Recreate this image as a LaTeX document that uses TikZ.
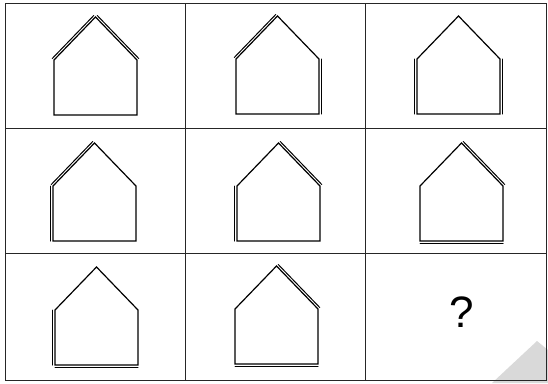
\documentclass[tikz,border=0pt]{standalone}
\usepackage{fontspec}
\setmainfont{Liberation Sans}
\usetikzlibrary{calc}

\tikzset{
  edge/.style={line width=1.2pt, line cap=round},
  one/.style={draw=none},
  two/.style={line width=1pt},
  frame/.style={line width=0.9pt, black!85},
}

% house at lower left corner (#1,#2); left wall, left roof, right roof, right wall, floor: one or two lines
\newcommand{\house}[7]{%
  \coordinate (bl) at (#1,#2);
  \coordinate (tl) at (#1,#2-55);
  \coordinate (ap) at (#1+41.5,#2-98);
  \coordinate (tr) at (#1+83,#2-55);
  \coordinate (br) at (#1+83,#2);
  \draw[edge] (bl) -- (tl) -- (ap) -- (tr) -- (br) -- cycle;
  \draw[edge, #3] ($(bl)!2.3pt!90:(tl)$) -- ($(tl)!2.3pt!-90:(bl)$);
  \draw[edge, #4] ($(tl)!2.3pt!90:(ap)$) -- ($(ap)!2.3pt!-90:(tl)$);
  \draw[edge, #5] ($(ap)!2.3pt!90:(tr)$) -- ($(tr)!2.3pt!-90:(ap)$);
  \draw[edge, #6] ($(tr)!2.3pt!90:(br)$) -- ($(br)!2.3pt!-90:(tr)$);
  \draw[edge, #7] ($(br)!2.3pt!90:(bl)$) -- ($(bl)!2.3pt!-90:(br)$);
}

\begin{document}
\begin{tikzpicture}[x=1pt, y=-1pt]
        \useasboundingbox (0,0) rectangle (548,383);
        \fill[gray!30] (492,383) -- (537,341) -- (548,350) -- (548,383) -- cycle;

        \draw[frame] (5,3) rectangle (546,380);
        \draw[frame] (185,3) -- (185,380);
        \draw[frame] (365,3) -- (365,380);
        \draw[frame] (5,128) -- (546,128);
        \draw[frame] (5,253) -- (546,253);

        \house{54}{115}{one}{two}{two}{one}{one}
        \house{236}{114}{one}{two}{one}{two}{one}
        \house{417}{114}{two}{one}{one}{two}{one}

        \house{53}{241}{two}{two}{one}{one}{one}
        \house{237}{241}{two}{one}{two}{one}{one}
        \house{420}{241}{one}{one}{two}{one}{two}

        \house{55}{365}{two}{one}{one}{one}{two}
        \house{235}{364}{one}{one}{two}{one}{two}

        \node[font=\fontsize{44}{44}\selectfont] (ask) at (462,312) {?};
    \end{tikzpicture}
\end{document}
